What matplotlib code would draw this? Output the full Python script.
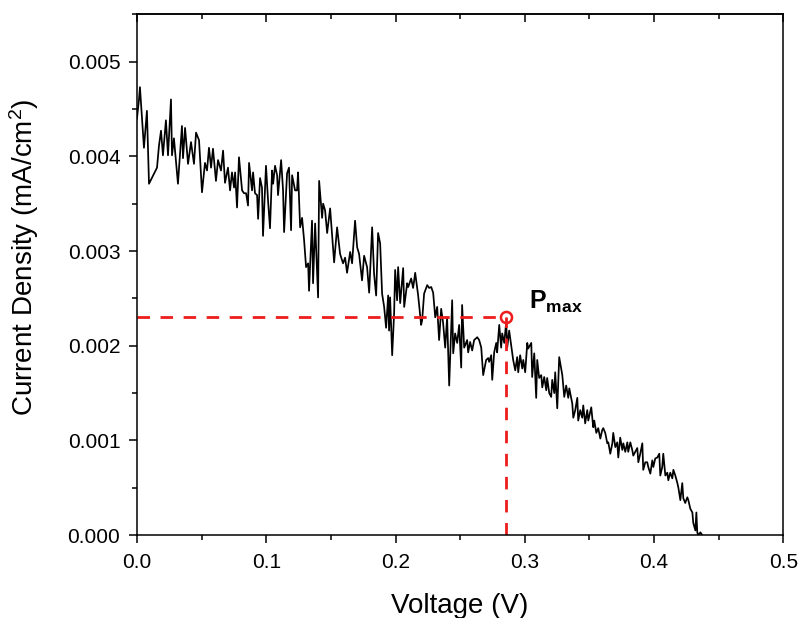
import matplotlib
matplotlib.use("Agg")
import matplotlib.pyplot as plt
from matplotlib.ticker import MultipleLocator

plt.rcParams['font.family'] = ['Liberation Sans', 'DejaVu Sans']
plt.rcParams['mathtext.fontset'] = 'custom'
plt.rcParams['mathtext.rm'] = 'Liberation Sans'
plt.rcParams['mathtext.bf'] = 'Liberation Sans:bold'
plt.rcParams['mathtext.default'] = 'regular'

voltage = [
    0.0000, 0.0015, 0.0023, 0.0054, 0.0077, 0.0093, 0.0155, 0.0170, 0.0186, 0.0201,
    0.0224, 0.0240, 0.0263, 0.0271, 0.0286, 0.0317, 0.0348, 0.0356, 0.0372, 0.0395,
    0.0418, 0.0441, 0.0457, 0.0480, 0.0503, 0.0526, 0.0542, 0.0557, 0.0573, 0.0588,
    0.0611, 0.0627, 0.0650, 0.0666, 0.0681, 0.0704, 0.0720, 0.0735, 0.0751,
    0.0759, 0.0774, 0.0789, 0.0813, 0.0828, 0.0844, 0.0859, 0.0867, 0.0890, 0.0898,
    0.0913, 0.0929, 0.0937, 0.0952, 0.0967, 0.0975, 0.0998, 0.1014, 0.1029, 0.1045,
    0.1053, 0.1068, 0.1084, 0.1091, 0.1115, 0.1130, 0.1138, 0.1161, 0.1176, 0.1192,
    0.1200, 0.1223, 0.1238, 0.1246, 0.1262, 0.1277, 0.1293, 0.1308, 0.1324, 0.1331,
    0.1354, 0.1362, 0.1378, 0.1401, 0.1409, 0.1432, 0.1440, 0.1455, 0.1471, 0.1494,
    0.1525, 0.1548, 0.1571, 0.1594, 0.1610, 0.1625, 0.1649, 0.1664, 0.1687, 0.1703,
    0.1718, 0.1741, 0.1757, 0.1780, 0.1796, 0.1819, 0.1834, 0.1850, 0.1865, 0.1881,
    0.1896, 0.1912, 0.1927, 0.1943, 0.1950, 0.1958, 0.1974, 0.1989, 0.1997, 0.2012,
    0.2020, 0.2036, 0.2059, 0.2067, 0.2090, 0.2098, 0.2121, 0.2136, 0.2152, 0.2175,
    0.2198, 0.2206,
    0.2221, 0.2245, 0.2260, 0.2276, 0.2291, 0.2307, 0.2322, 0.2337, 0.2353, 0.2368,
    0.2384, 0.2399, 0.2415, 0.2438, 0.2446, 0.2461, 0.2477, 0.2492, 0.2508, 0.2515,
    0.2531, 0.2554, 0.2562, 0.2577, 0.2593, 0.2608, 0.2632, 0.2647, 0.2663, 0.2678,
    0.2701, 0.2717, 0.2724, 0.2740, 0.2748, 0.2763, 0.2779, 0.2786, 0.2802, 0.2817,
    0.2825, 0.2841, 0.2856, 0.2864, 0.2879, 0.2902, 0.2910, 0.2926,
    0.2941, 0.2949, 0.2964, 0.2980, 0.2988, 0.3003, 0.3019, 0.3026, 0.3050, 0.3057,
    0.3073, 0.3088, 0.3096, 0.3111, 0.3127, 0.3135, 0.3150, 0.3166, 0.3173, 0.3189,
    0.3204, 0.3212, 0.3228, 0.3235, 0.3251, 0.3266, 0.3290, 0.3305, 0.3320, 0.3336,
    0.3344, 0.3367, 0.3375, 0.3390, 0.3406, 0.3413, 0.3429, 0.3444, 0.3452, 0.3467,
    0.3483, 0.3491, 0.3514, 0.3529, 0.3537, 0.3553, 0.3568, 0.3584, 0.3599, 0.3607,
    0.3622, 0.3638, 0.3646, 0.3661,
    0.3677, 0.3684, 0.3700, 0.3715, 0.3723, 0.3738, 0.3754, 0.3762, 0.3777, 0.3793,
    0.3800, 0.3816, 0.3831, 0.3839, 0.3854, 0.3870, 0.3878, 0.3893, 0.3909, 0.3916,
    0.3932, 0.3947, 0.3955, 0.3971, 0.3986, 0.3994, 0.4009, 0.4025, 0.4040, 0.4048,
    0.4063, 0.4071, 0.4087, 0.4102, 0.4110, 0.4125, 0.4141, 0.4149, 0.4164, 0.4180,
    0.4188, 0.4203, 0.4218, 0.4226, 0.4241, 0.4257, 0.4265, 0.4280, 0.4296, 0.4303,
    0.4319, 0.4327, 0.4334, 0.4342, 0.4358, 0.4373,
]

current_density = [
    0.00440, 0.00459, 0.00473, 0.00409, 0.00448, 0.00371, 0.00388, 0.00411, 0.00427, 0.00401,
    0.00438, 0.00401, 0.00460, 0.00401, 0.00419, 0.00371, 0.00432, 0.00398, 0.00430, 0.00392,
    0.00415, 0.00392, 0.00425, 0.00417, 0.00362, 0.00393, 0.00385, 0.00409, 0.00388, 0.00408,
    0.00374, 0.00396, 0.00385, 0.00406, 0.00372, 0.00388, 0.00364, 0.00383, 0.00367,
    0.00383, 0.00346, 0.00399, 0.00364, 0.00361, 0.00361, 0.00348, 0.00393, 0.00364, 0.00383,
    0.00361, 0.00359, 0.00334, 0.00377, 0.00367, 0.00316, 0.00390, 0.00353, 0.00324, 0.00385,
    0.00371, 0.00390, 0.00380, 0.00359, 0.00396, 0.00364, 0.00320, 0.00382, 0.00388, 0.00322,
    0.00380, 0.00364, 0.00364, 0.00383, 0.00325, 0.00335, 0.00311, 0.00283, 0.00287, 0.00258,
    0.00332, 0.00266, 0.00329, 0.00251, 0.00374, 0.00335, 0.00350, 0.00343, 0.00319, 0.00345,
    0.00288, 0.00325, 0.00297, 0.00287, 0.00293, 0.00277, 0.00299, 0.00287, 0.00332, 0.00304,
    0.00297, 0.00269, 0.00295, 0.00283, 0.00256, 0.00325, 0.00276, 0.00253, 0.00319, 0.00308,
    0.00255, 0.00241, 0.00219, 0.00253, 0.00216, 0.00251, 0.00190, 0.00234, 0.00280, 0.00248,
    0.00283, 0.00245, 0.00282, 0.00241, 0.00266, 0.00262, 0.00271, 0.00261, 0.00277, 0.00253,
    0.00222, 0.00227,
    0.00255, 0.00264, 0.00261, 0.00262, 0.00256, 0.00230, 0.00241, 0.00206, 0.00239, 0.00224,
    0.00198, 0.00230, 0.00158, 0.00248, 0.00192, 0.00213, 0.00203, 0.00222, 0.00177, 0.00243,
    0.00198, 0.00206, 0.00193, 0.00204, 0.00195, 0.00206, 0.00209, 0.00206, 0.00198, 0.00169,
    0.00185, 0.00187, 0.00183, 0.00190, 0.00164, 0.00193, 0.00203, 0.00193, 0.00222, 0.00198,
    0.00213, 0.00203, 0.00225, 0.00198, 0.00216, 0.00193, 0.00185, 0.00174,
    0.00188, 0.00172, 0.00190, 0.00176, 0.00185, 0.00172, 0.00203, 0.00197, 0.00203, 0.00167,
    0.00192, 0.00145, 0.00185, 0.00166, 0.00169, 0.00156, 0.00167, 0.00153, 0.00166, 0.00150,
    0.00146, 0.00164, 0.00150, 0.00172, 0.00134, 0.00188, 0.00169, 0.00146, 0.00158, 0.00145,
    0.00155, 0.00139, 0.00124, 0.00132, 0.00145, 0.00121, 0.00132, 0.00124, 0.00137, 0.00118,
    0.00132, 0.00121, 0.00135, 0.00114, 0.00121, 0.00108, 0.00113, 0.00102, 0.00111, 0.00113,
    0.00108, 0.00097, 0.00098, 0.00086,
    0.00097, 0.00108, 0.00093, 0.00098, 0.00082, 0.00103, 0.00090, 0.00097, 0.00088, 0.00098,
    0.00088, 0.00098, 0.00090, 0.00084, 0.00088, 0.00092, 0.00077, 0.00086, 0.00097, 0.00069,
    0.00077, 0.00077, 0.00072, 0.00065, 0.00079, 0.00072, 0.00081, 0.00082, 0.00086, 0.00063,
    0.00072, 0.00086, 0.00063, 0.00066, 0.00058, 0.00066, 0.00060, 0.00069, 0.00063, 0.00055,
    0.00050, 0.00037, 0.00055, 0.00039, 0.00034, 0.00040, 0.00037, 0.00028, 0.00024, 0.00013,
    0.00005, 0.00024, 0.00003, 0.00000, 0.00003, 0.00000,
]

pmax_v = 0.2856
pmax_j = 0.0023

x_ticks = [0.0, 0.1, 0.2, 0.3, 0.4, 0.5]
y_ticks = [0.000, 0.001, 0.002, 0.003, 0.004, 0.005]

fig = plt.figure(figsize=(8.01, 6.18), dpi=100)
ax = fig.add_axes([0.171, 0.134, 0.807, 0.843])

ax.plot(voltage, current_density, color='black', lw=1.25)

red = '#ee1c1c'
ax.plot([0, pmax_v], [pmax_j, pmax_j], color=red, lw=2.0, dashes=(4.5, 3.8))
ax.plot([pmax_v, pmax_v], [0, pmax_j], color=red, lw=2.0, dashes=(4.5, 3.8))
ax.plot([pmax_v], [pmax_j], marker='o', ms=8, mfc='none', mec=red, mew=1.8, ls='none')
ax.text(0.3035, 0.00239, r'$\mathbf{P_{max}}$', fontsize=18, ha='left', va='baseline')

ax.set_xlim(0, 0.5)
ax.set_ylim(0, 0.0055)
ax.set_xticks(x_ticks)
ax.set_yticks(y_ticks)
ax.set_xticklabels([f'{v:.1f}' for v in x_ticks])
ax.set_yticklabels([f'{v:.3f}' for v in y_ticks])
ax.xaxis.set_minor_locator(MultipleLocator(0.05))
ax.yaxis.set_minor_locator(MultipleLocator(0.0005))

ax.tick_params(axis='both', which='major', labelsize=15, width=1.1, length=6, direction='out')
ax.tick_params(axis='both', which='minor', width=1.1, length=3.5, direction='out')
ax.tick_params(axis='x', which='both', top=False, pad=7)
ax.tick_params(axis='y', which='both', right=False, pad=6)

# top axis: inward ticks, no labels
top = ax.secondary_xaxis('top')
top.set_xticks(x_ticks)
top.xaxis.set_minor_locator(MultipleLocator(0.05))
top.tick_params(axis='x', which='major', direction='in', length=6, width=1.1, labeltop=False)
top.tick_params(axis='x', which='minor', direction='in', length=3.5, width=1.1)
top.spines['top'].set_linewidth(1.1)

for s in ax.spines.values():
    s.set_linewidth(1.1)

ax.set_xlabel('Voltage (V)', fontsize=20, labelpad=15)
ax.set_ylabel(r'Current Density (mA/cm$^2$)', fontsize=20)
ax.yaxis.set_label_coords(-0.148, 0.534)

fig.savefig('out.png', dpi=100)
